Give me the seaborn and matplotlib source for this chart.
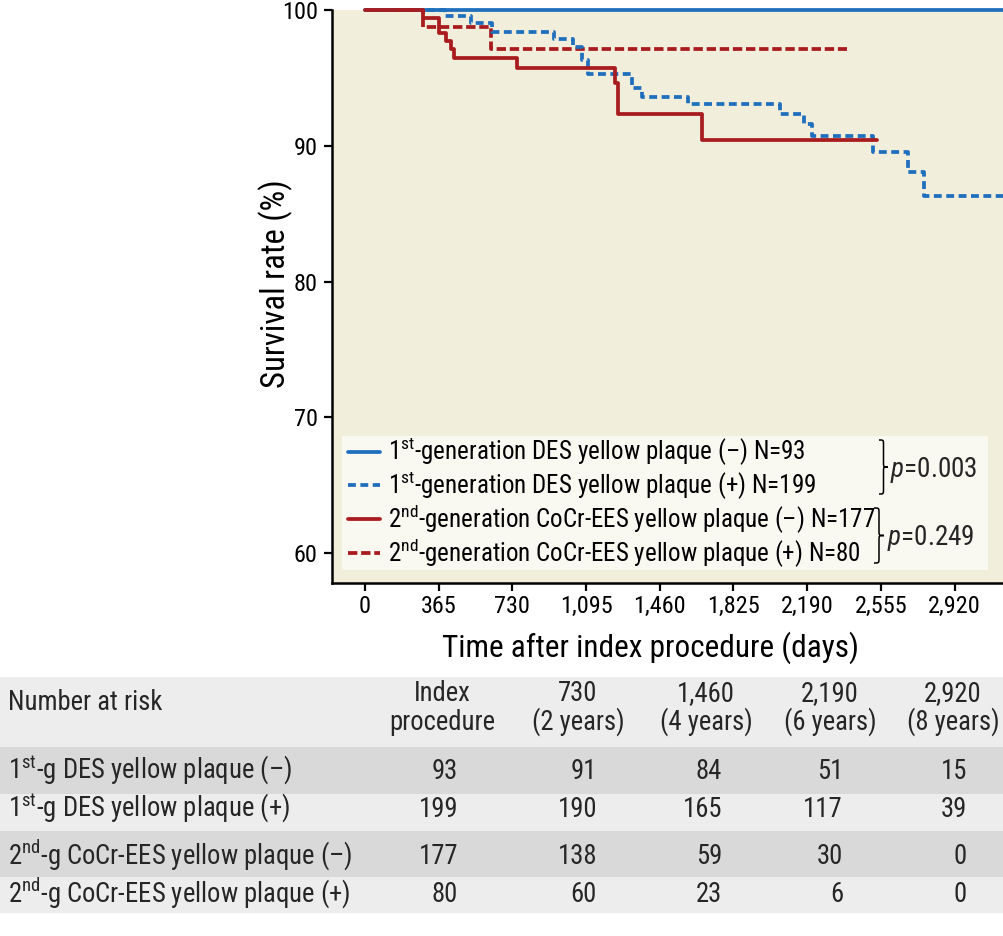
import matplotlib

matplotlib.use("Agg")
import matplotlib.pyplot as plt
import seaborn as sns
from matplotlib.patches import PathPatch, Rectangle
from matplotlib.path import Path

BLUE = "#1f6fbd"
RED = "#a81b1e"
PLOT_BG = "#f2eedc"
LEGEND_BG = "#f9f8f1"
ROW_LIGHT = "#ededed"
ROW_DARK = "#d9d9d9"
FONT = "Roboto Condensed"

# Kaplan-Meier step points (days, survival %)
days_1st_neg = [0, 3165]
surv_1st_neg = [100.0, 100.0]

days_1st_pos = [0, 396, 525, 628, 938, 1032, 1076, 1106, 1321, 1371, 1601,
                2055, 2176, 2215, 2518, 2691, 2770, 3165]
surv_1st_pos = [100.0, 99.56, 99.02, 98.41, 97.89, 97.27, 96.31, 95.31, 94.28,
                93.59, 93.10, 92.36, 91.57, 90.71, 89.53, 88.05, 86.33, 86.33]

days_2nd_neg = [0, 289, 367, 401, 424, 442, 751, 1238, 1255, 1668, 2534]
surv_2nd_neg = [100.0, 99.39, 98.33, 97.71, 97.10, 96.49, 95.75, 94.65, 92.31,
                90.41, 90.41]

days_2nd_pos = [0, 289, 623, 2387]
surv_2nd_pos = [100.0, 98.75, 97.15, 97.15]

group_labels = [
    "1$^{\\mathrm{st}}$-generation DES yellow plaque (–) N=93",
    "1$^{\\mathrm{st}}$-generation DES yellow plaque (+) N=199",
    "2$^{\\mathrm{nd}}$-generation CoCr-EES yellow plaque (–) N=177",
    "2$^{\\mathrm{nd}}$-generation CoCr-EES yellow plaque (+) N=80",
]
p_values = ["0.003", "0.249"]

tick_days = [0, 365, 730, 1095, 1460, 1825, 2190, 2555, 2920]
tick_surv = [60, 70, 80, 90, 100]

# number-at-risk table
risk_title = "Number at risk"
risk_header_top = ["Index", "730", "1,460", "2,190", "2,920"]
risk_header_bottom = ["procedure", "(2 years)", "(4 years)", "(6 years)", "(8 years)"]
risk_row_labels = [
    "1$^{\\mathrm{st}}$-g DES yellow plaque (–)",
    "1$^{\\mathrm{st}}$-g DES yellow plaque (+)",
    "2$^{\\mathrm{nd}}$-g CoCr-EES yellow plaque (–)",
    "2$^{\\mathrm{nd}}$-g CoCr-EES yellow plaque (+)",
]
risk_1st_neg = [93, 91, 84, 51, 15]
risk_1st_pos = [199, 190, 165, 117, 39]
risk_2nd_neg = [177, 138, 59, 30, 0]
risk_2nd_pos = [80, 60, 23, 6, 0]

W, H = 1004, 936


def fig_rect(x0, y0, x1, y1):
    return [x0 / W, 1 - y1 / H, (x1 - x0) / W, (y1 - y0) / H]


def draw_brace(ax, x0, y_top, y_bot, width):
    ym = (y_top + y_bot) / 2
    xm = x0 + width / 2
    r = width / 2
    verts = [
        (x0, y_top), (xm, y_top), (xm, y_top), (xm, y_top + r),
        (xm, ym - r), (xm, ym), (xm, ym), (x0 + width, ym),
        (xm, ym), (xm, ym), (xm, ym + r),
        (xm, y_bot - r), (xm, y_bot), (xm, y_bot), (x0, y_bot),
    ]
    C, L = Path.CURVE4, Path.LINETO
    codes = [Path.MOVETO, C, C, C, L, C, C, C, C, C, C, L, C, C, C]
    ax.add_patch(PathPatch(Path(verts, codes), fc="none", ec="black", lw=1.1))


def main():
    sns.set_style("ticks")
    plt.rcParams["font.family"] = [FONT, "Liberation Sans", "DejaVu Sans"]
    plt.rcParams["mathtext.fontset"] = "custom"
    plt.rcParams["mathtext.rm"] = FONT
    plt.rcParams["mathtext.it"] = FONT + ":italic"

    fig = plt.figure(figsize=(W / 100, H / 100), dpi=100)
    ax = fig.add_axes(fig_rect(331.7, 10, 1004, 582.7))
    ax.set_facecolor(PLOT_BG)

    series = [
        (days_1st_neg, surv_1st_neg, BLUE, "-", 2),
        (days_1st_pos, surv_1st_pos, BLUE, (0, (2.1, 1.2)), 3),
        (days_2nd_neg, surv_2nd_neg, RED, "-", 4),
        (days_2nd_pos, surv_2nd_pos, RED, (0, (2.5, 1.0)), 2.5),
    ]
    for (days, surv, color, ls, z), label in zip(series, group_labels):
        sns.lineplot(x=days, y=surv, ax=ax, drawstyle="steps-post", color=color,
                     linestyle=ls, linewidth=2.7, estimator=None, sort=False,
                     label=label, zorder=z, clip_on=False, legend=False)

    ax.set_xlim(-165, 3165)
    ax.set_ylim(57.83, 100)
    ax.set_xticks(tick_days)
    ax.set_xticklabels([f"{d:,}" for d in tick_days])
    ax.set_yticks(tick_surv)
    sns.despine(ax=ax)
    for side in ["left", "bottom"]:
        ax.spines[side].set_linewidth(1.8)
        ax.spines[side].set_color("black")
    ax.tick_params(length=6, width=1.6, labelsize=17.5, color="black",
                   labelcolor="black")
    ax.tick_params(axis="x", pad=3)
    ax.tick_params(axis="y", pad=4)
    ax.set_ylabel("Survival rate (%)", fontsize=23.5, va="center", color="black")
    ax.yaxis.set_label_coords(-0.083, 0.522)
    ax.set_xlabel("Time after index procedure (days)", fontsize=22.5, va="center",
                  color="black")
    ax.xaxis.set_label_coords(0.4735, -0.113)

    # overlay in pixel coordinates for legend box, braces and the risk table
    ov = fig.add_axes([0, 0, 1, 1], zorder=5)
    ov.set_xlim(0, W)
    ov.set_ylim(H, 0)
    ov.axis("off")
    ov.patch.set_alpha(0)

    ov.add_patch(Rectangle((342.3, 436), 645.7, 134, fc=LEGEND_BG, ec="none"))
    handles = ax.get_lines()[:4]
    leg = ov.legend(handles, group_labels, loc="upper left",
                    bbox_to_anchor=(347.7 / W, 1 - 436 / H),
                    bbox_transform=fig.transFigure, frameon=False, fontsize=18,
                    handlelength=1.3, handletextpad=0.33, labelspacing=0.04,
                    borderpad=0, borderaxespad=0)
    for t in leg.get_texts():
        t.set_color("black")

    draw_brace(ov, 879, 440, 494, 9)
    draw_brace(ov, 874, 508, 563, 10)
    ov.text(890, 477, f"$p$={p_values[0]}", fontsize=19.5, va="baseline")
    ov.text(887, 545, f"$p$={p_values[1]}", fontsize=19.5, va="baseline")

    # number-at-risk table
    row_edges = [677.3, 746.7, 794, 830.7, 877.3, 913.3]
    row_colors = [ROW_LIGHT, ROW_DARK, ROW_LIGHT, ROW_DARK, ROW_LIGHT]
    for y0, y1, c in zip(row_edges[:-1], row_edges[1:], row_colors):
        ov.add_patch(Rectangle((0, y0), W, y1 - y0, fc=c, ec="none"))

    fs = 19.2
    header_x = [442, 578, 706, 830, 953]
    number_x = [458, 597, 722, 843, 967]
    ov.text(8.3, 710, risk_title, fontsize=fs, va="baseline")
    for x, top, bottom in zip(header_x, risk_header_top, risk_header_bottom):
        ov.text(x, 701, top, fontsize=fs, ha="center", va="baseline")
        ov.text(x, 730, bottom, fontsize=fs, ha="center", va="baseline")

    risk_values = [risk_1st_neg, risk_1st_pos, risk_2nd_neg, risk_2nd_pos]
    baselines = [779, 817, 864, 902]
    for yb, label, values in zip(baselines, risk_row_labels, risk_values):
        ov.text(8.3, yb, label, fontsize=fs, va="baseline")
        for x, v in zip(number_x, values):
            ov.text(x, yb, str(v), fontsize=fs, ha="right", va="baseline")

    fig.savefig("out.png", dpi=100)
    plt.close(fig)


if __name__ == "__main__":
    main()
